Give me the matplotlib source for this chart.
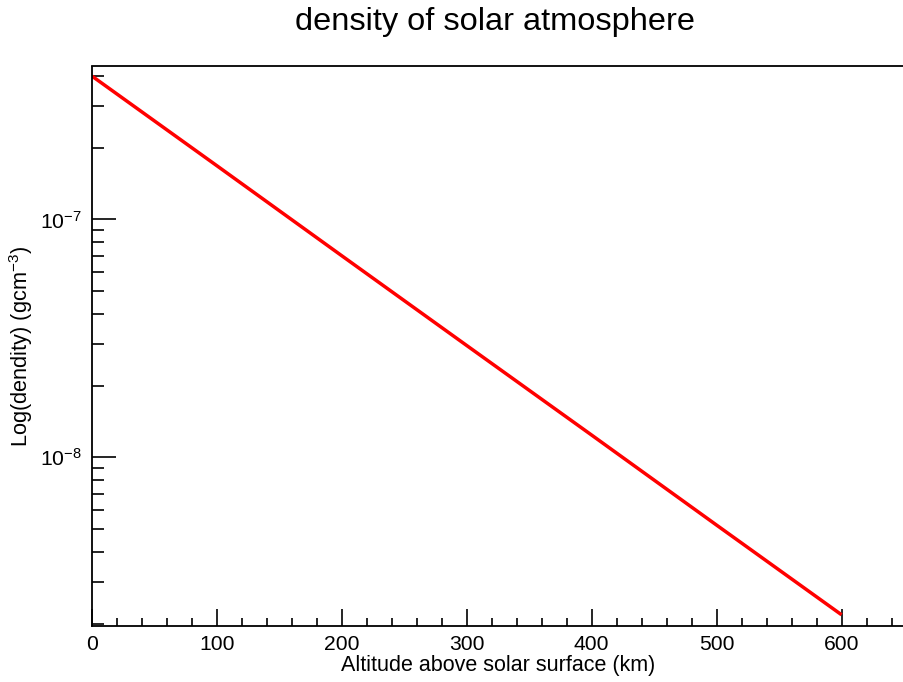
import matplotlib
matplotlib.use("Agg")
import matplotlib.pyplot as plt
from matplotlib.ticker import LogLocator, MultipleLocator, NullFormatter, FixedLocator

plt.rcParams['font.family'] = ['Liberation Sans', 'DejaVu Sans']
plt.rcParams['mathtext.fontset'] = 'custom'
plt.rcParams['mathtext.rm'] = 'Liberation Sans'
plt.rcParams['mathtext.it'] = 'Liberation Sans:italic'
plt.rcParams['mathtext.bf'] = 'Liberation Sans:bold'

# Data
altitude_km = [0, 100, 200, 300, 400, 500, 600]
density = [4.0e-7, 1.68e-7, 7.03e-8, 2.95e-8, 1.24e-8, 5.19e-9, 2.18e-9]
y_major_ticks = [1e-8, 1e-7]
x_major_ticks = [0, 100, 200, 300, 400, 500, 600]

title = "density of solar atmosphere"
xlabel = "Altitude above solar surface (km)"
ylabel = r"Log(dendity) (gcm$^{-3}$)"

W, H = 904, 682
fig = plt.figure(figsize=(W / 100, H / 100), dpi=100)
left, right, top, bottom = 92, 904, 66.5, 625.5
ax = fig.add_axes([left / W, 1 - bottom / H, (right - left) / W, (bottom - top) / H])

ax.plot(altitude_km, density, color='#ff0000', linewidth=2.5, solid_capstyle='butt')
ax.set_yscale('log')
ax.set_xlim(0, 650)
ax.set_ylim(1.965e-9, 4.39e-7)

ax.xaxis.set_major_locator(FixedLocator(x_major_ticks))
ax.xaxis.set_minor_locator(MultipleLocator(20))
ax.yaxis.set_major_locator(FixedLocator(y_major_ticks))
ax.yaxis.set_minor_locator(LogLocator(base=10, subs=range(2, 10), numticks=20))
ax.yaxis.set_minor_formatter(NullFormatter())

for s in ['left', 'bottom', 'top']:
    ax.spines[s].set_linewidth(1.3)
    ax.spines[s].set_color('black')
ax.spines['right'].set_visible(False)

ax.tick_params(axis='x', which='major', direction='in', length=12.2, width=1.2, labelsize=15.2, pad=6.5, top=False)
ax.tick_params(axis='x', which='minor', direction='in', length=6.1, width=1.2, top=False)
ax.tick_params(axis='y', which='major', direction='in', length=17.5, width=1.2, labelsize=15.2, pad=7, right=False)
ax.tick_params(axis='y', which='minor', direction='in', length=8.7, width=1.2, right=False)

fig.text(495 / W, 1 - 22 / H, title, ha='center', va='center', fontsize=23.4)
fig.text(498 / W, 1 - 665 / H, xlabel, ha='center', va='center', fontsize=15.5)
fig.text(21 / W, 1 - 346 / H, ylabel, ha='center', va='center', rotation=90, fontsize=15.7)

fig.savefig('out.png', dpi=100)
